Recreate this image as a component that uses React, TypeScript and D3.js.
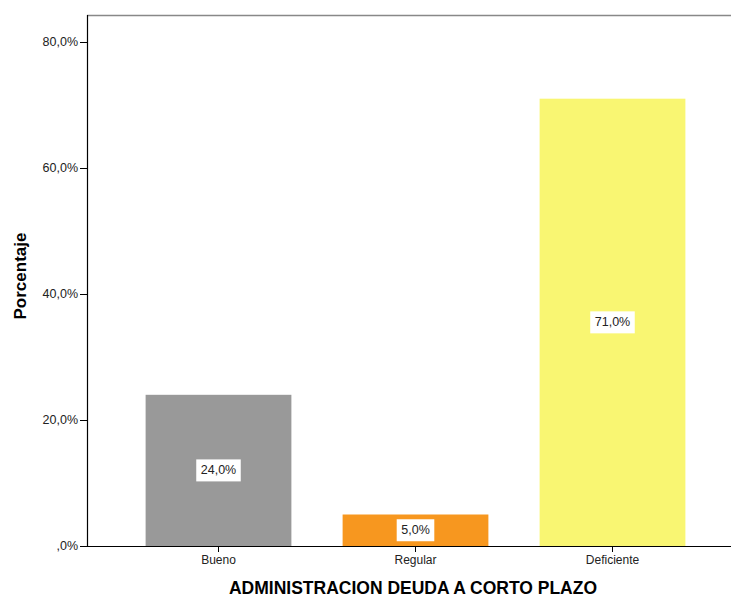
import React from "react";
import * as d3 from "d3";

const categories = ["Bueno", "Regular", "Deficiente"];
const values = [24.0, 5.0, 71.0];
const colors = ["#999999", "#F7971F", "#F9F672"];
const yTicks = [0, 20, 40, 60, 80];
const xTitle = "ADMINISTRACION DEUDA A CORTO PLAZO";
const yTitle = "Porcentaje";

const W = 731;
const H = 598;
const left = 87;
const right = 731;
const top = 15;
const bottom = 546;

const fmt = (v: number) => {
  const s = v.toFixed(1).replace(".", ",");
  return (s.startsWith("0,") ? s.slice(1) : s) + "%";
};

export default function App() {
  const y = d3.scaleLinear().domain([0, 80]).range([bottom, 42]);
  const x = d3
    .scaleBand<string>()
    .domain(categories)
    .range([120, 711])
    .paddingInner(0.26)
    .paddingOuter(0.13);
  const font = "Liberation Sans, Arial, sans-serif";
  return (
    <div style={{ position: "fixed", left: 0, top: 0 }}>
      <svg width={W} height={H} style={{ display: "block" }} fontFamily={font}>
        <rect x={0} y={0} width={W} height={H} fill="#fff" />
        <line x1={left} x2={right} y1={top + 0.5} y2={top + 0.5} stroke="#888" strokeWidth={1.5} />
        {categories.map((c, i) => {
          const x0 = x(c)!;
          const bw = x.bandwidth();
          const y0 = y(values[i]);
          const cy = (y0 + bottom) / 2;
          const label = fmt(values[i]);
          const tw = label.length * 6.9;
          return (
            <g key={c}>
              <rect x={x0} y={y0} width={bw} height={bottom - y0} fill={colors[i]} />
              <rect x={x0 + bw / 2 - tw / 2 - 5} y={cy - 11} width={tw + 10} height={22} fill="#fff" />
              <text x={x0 + bw / 2} y={cy} textAnchor="middle" dominantBaseline="central" fontSize={12.5} fill="#222">
                {label}
              </text>
              <line x1={x0 + bw / 2} x2={x0 + bw / 2} y1={bottom} y2={bottom + 6} stroke="#000" />
              <text x={x0 + bw / 2} y={bottom + 18} textAnchor="middle" fontSize={12} fill="#222">
                {c}
              </text>
            </g>
          );
        })}
        <line x1={left} x2={right} y1={bottom + 0.5} y2={bottom + 0.5} stroke="#000" />
        <line x1={left + 0.5} x2={left + 0.5} y1={top} y2={bottom + 1} stroke="#000" strokeWidth={1.2} />
        {yTicks.map((t) => (
          <g key={t}>
            <line x1={left - 7} x2={left} y1={y(t) + 0.5} y2={y(t) + 0.5} stroke="#000" />
            <text x={left - 9} y={y(t)} textAnchor="end" dominantBaseline="central" fontSize={12.5} fill="#222">
              {fmt(t)}
            </text>
          </g>
        ))}
        <text
          transform={`translate(26, 276) rotate(-90)`}
          textAnchor="middle"
          fontSize={17}
          fontWeight="bold"
          fill="#000"
        >
          {yTitle}
        </text>
        <text x={413} y={594} textAnchor="middle" fontSize={17.5} fontWeight="bold" fill="#000">
          {xTitle}
        </text>
      </svg>
    </div>
  );
}
